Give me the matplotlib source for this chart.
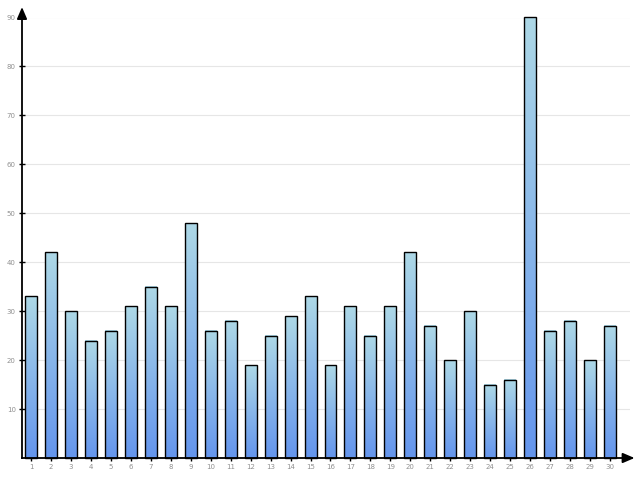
import numpy as np
import matplotlib
matplotlib.use("Agg")
import matplotlib.pyplot as plt
from matplotlib.colors import LinearSegmentedColormap

categories = list(range(1, 31))
values = [33, 42, 30, 24, 26, 31, 35, 31, 48, 26, 28, 19, 25, 29, 33,
          19, 31, 25, 31, 42, 27, 20, 30, 15, 16, 90, 26, 28, 20, 27]
y_ticks = [10, 20, 30, 40, 50, 60, 70, 80, 90]

W, H = 640, 480
fig = plt.figure(figsize=(W / 100, H / 100), dpi=100)
ax = fig.add_axes([22 / W, 1 - 458 / H, 608 / W, (458 - 17.5) / H])

cmap = LinearSegmentedColormap.from_list("bar", ["#6495ed", "#add8e6"])
grad = np.linspace(0, 1, 256).reshape(-1, 1)
bw = 0.6
for x, v in zip(categories, values):
    ax.imshow(grad, cmap=cmap, origin="lower", aspect="auto",
              extent=[x - bw / 2, x + bw / 2, 0, v], zorder=2)
bars = ax.bar(categories, values, width=bw, facecolor="none",
              edgecolor="black", linewidth=1.0, zorder=3)
for b in bars:
    b.set_clip_on(False)

ax.set_xlim(0.55, 31.0)
ax.set_ylim(0, 90)

for s in ["top", "right"]:
    ax.spines[s].set_visible(False)
for s in ["left", "bottom"]:
    ax.spines[s].set_linewidth(1.3)
    ax.spines[s].set_zorder(4)

ax.set_yticks(y_ticks)
ax.set_xticks(categories)
ax.tick_params(axis="both", direction="inout", length=5, width=1,
               labelsize=5, labelcolor="#909090", color="black", pad=2)
ax.grid(axis="y", color="#e6e6e6", linewidth=0.8, zorder=0)
ax.set_axisbelow(True)

# arrow heads on the axes
ax.annotate("", xy=(0, 1.03), xycoords="axes fraction", xytext=(0, 0.99),
            arrowprops=dict(arrowstyle="-|>,head_length=0.7,head_width=0.3",
                            color="black", lw=1.3), annotation_clip=False)
ax.annotate("", xy=(1.012, 0), xycoords="axes fraction", xytext=(0.99, 0),
            arrowprops=dict(arrowstyle="-|>,head_length=0.7,head_width=0.3",
                            color="black", lw=1.3), annotation_clip=False)

fig.savefig("out.png", dpi=100)
